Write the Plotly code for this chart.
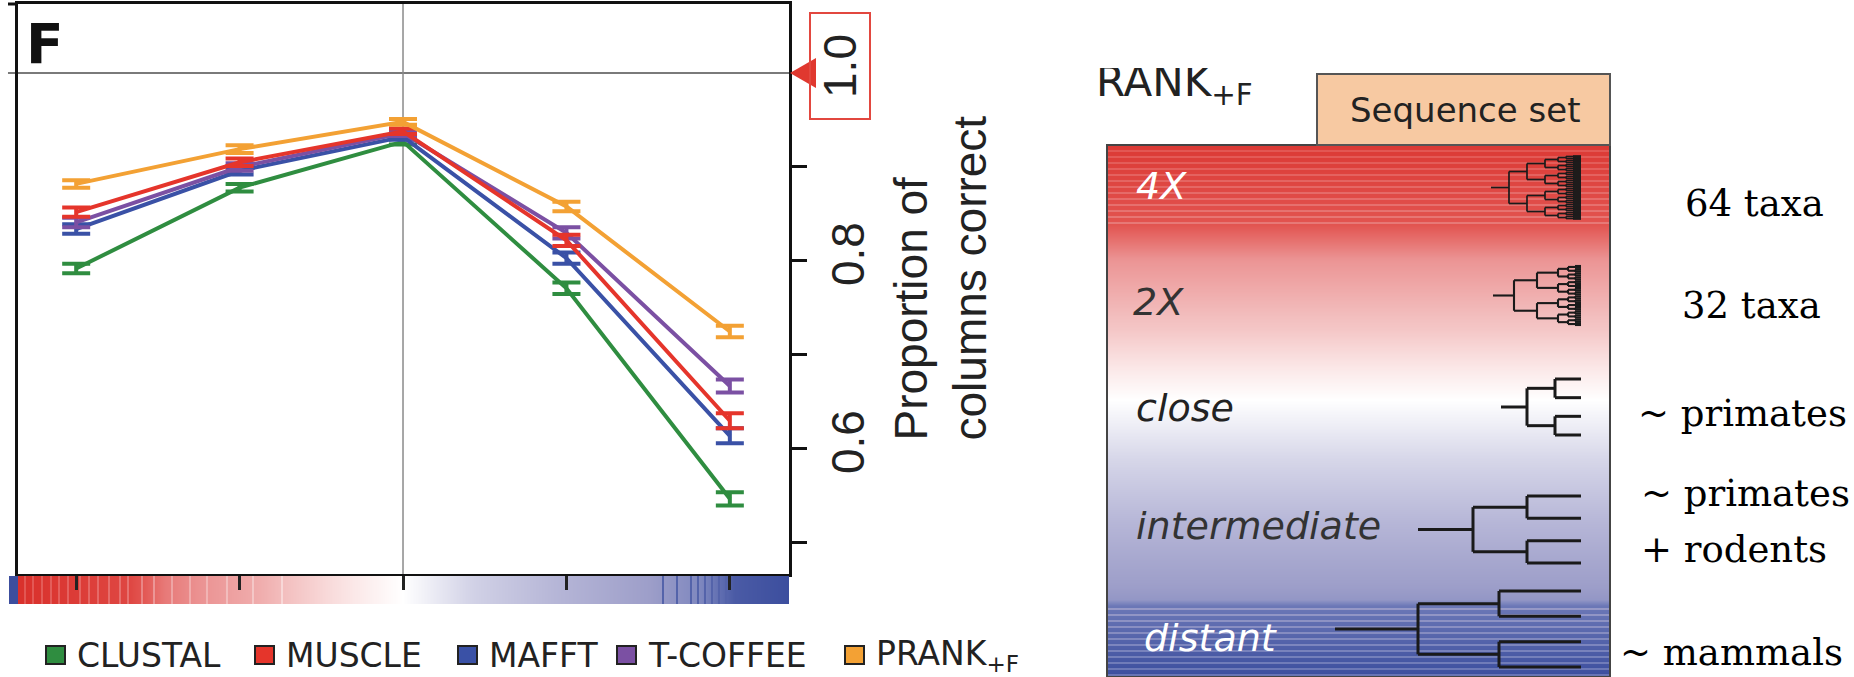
import numpy as np
import plotly.graph_objects as go

W, H = 1854, 677

# ------------------------------------------------------------------ data
sequence_sets = ["4X", "2X", "close", "intermediate", "distant"]
set_pos = [1, 2, 3, 4, 5]

methods = ["CLUSTAL", "MUSCLE", "MAFFT", "T-COFFEE", "PRANK<sub>+F</sub>"]
method_colors = ["#2f8d40", "#e5352b", "#3a51a6", "#7b50a3", "#f3a134"]

clustal = [0.792, 0.878, 0.927, 0.771, 0.547]
muscle = [0.852, 0.905, 0.938, 0.822, 0.630]
mafft = [0.834, 0.896, 0.932, 0.803, 0.614]
tcoffee = [0.841, 0.900, 0.936, 0.830, 0.667]
prank = [0.882, 0.919, 0.948, 0.858, 0.725]

clustal_err = [0.005, 0.004, 0.003, 0.006, 0.007]
muscle_err = [0.005, 0.004, 0.003, 0.006, 0.008]
mafft_err = [0.005, 0.004, 0.003, 0.006, 0.008]
tcoffee_err = [0.005, 0.004, 0.003, 0.006, 0.007]
prank_err = [0.004, 0.004, 0.003, 0.005, 0.006]

y_tickvals = [0.5, 0.6, 0.7, 0.8, 0.9]
y_ticktext = ["", "0.6", "", "0.8", ""]

taxa_labels = ["64 taxa", "32 taxa", "~ primates", "~ primates", "+ rodents", "~ mammals"]
tree_leaves = [64, 32, 4, 4, 4]

# ------------------------------------------------------------ layout helpers
def fx(px):
    return px / W


def fy(py):
    return 1 - py / H


PLOT_L, PLOT_R, PLOT_T, PLOT_B = 18, 789, 4, 574
x_range = [0.644, 5.362]
y_range = [0.467, 1.0734]
STRIP_L, STRIP_T, STRIP_B = 9, 576, 604
BOX_L, BOX_R, BOX_T, BOX_B = 1107, 1610, 145, 677

unit = (PLOT_R - PLOT_L) / (x_range[1] - x_range[0])


def x_at(px):
    return x_range[0] + (px - PLOT_L) / unit


# red -> white -> blue ramp used by the divergence strip and the sequence box
div_scale = [
    [0.00, "#d9302b"], [0.08, "#e25450"], [0.18, "#eb9292"], [0.30, "#f3c0c0"],
    [0.42, "#fbe8e8"], [0.50, "#ffffff"], [0.60, "#d5d5e8"], [0.70, "#b6b6d7"],
    [0.80, "#9d9ec9"], [0.88, "#7580bb"], [1.00, "#3c4e9e"],
]

fig = go.Figure()

# ---------------------------------------------------------------- line plot
series = [
    (clustal, clustal_err, 0),
    (mafft, mafft_err, 2),
    (tcoffee, tcoffee_err, 3),
    (muscle, muscle_err, 1),
    (prank, prank_err, 4),
]
for vals, errs, k in series:
    fig.add_trace(go.Scatter(
        x=set_pos, y=vals, mode="lines", name=methods[k],
        line=dict(color=method_colors[k], width=4),
        error_y=dict(type="data", array=errs, visible=True,
                     color=method_colors[k], thickness=4, width=14),
        showlegend=False, xaxis="x", yaxis="y",
    ))

# --------------------------------------------------- divergence colour strip
strip_stop_px = [9, 17.9, 18, 130, 165, 260, 330, 403, 480, 650, 700, 735, 789]
strip_stop_t = [1.0, 1.0, 0.0, 0.05, 0.14, 0.25, 0.38, 0.50, 0.62, 0.80, 0.86, 0.97, 1.0]
strip_light_px = [24, 32, 41, 50, 58, 67, 79, 88, 97, 108, 119, 127,
                  141, 153, 171, 189, 206, 226, 252, 281]
strip_dark_px = [662, 676, 690, 697, 704, 711, 718, 725]

strip_px = np.arange(STRIP_L, PLOT_R) + 0.5
strip_t = np.interp(strip_px, strip_stop_px, strip_stop_t)
for p in strip_light_px:
    m = (strip_px >= p) & (strip_px < p + 2)
    strip_t[m] = np.minimum(strip_t[m] + 0.08, 0.49)
for p in strip_dark_px:
    m = (strip_px >= p) & (strip_px < p + 2)
    strip_t[m] = 0.95

fig.add_trace(go.Heatmap(
    x=[x_at(p) for p in strip_px], y=[0.5], z=[strip_t.tolist()],
    zmin=0, zmax=1, colorscale=div_scale, showscale=False,
    hoverinfo="skip", xaxis="x2", yaxis="y2",
))

# ----------------------------------------------------------- sequence box
box_stop_px = [145, 225, 262, 330, 400, 480, 560, 600, 606, 677]
box_stop_t = [0.02, 0.08, 0.19, 0.32, 0.50, 0.63, 0.76, 0.82, 0.90, 1.0]
box_light_top = [150, 156, 162, 168, 174, 180, 186, 192, 198, 204, 210, 216, 222]
box_light_bot = [608, 614, 620, 626, 632, 638, 644, 650, 656, 662, 668, 674]

box_py = np.arange(BOX_T, BOX_B) + 0.5
box_t = np.interp(box_py, box_stop_px, box_stop_t)
for p in box_light_top:
    m = (box_py >= p) & (box_py < p + 2)
    box_t[m] = box_t[m] + 0.06
for p in box_light_bot:
    m = (box_py >= p) & (box_py < p + 2)
    box_t[m] = box_t[m] - 0.09

box_y = (BOX_B - box_py) / (BOX_B - BOX_T)
fig.add_trace(go.Heatmap(
    x=[0, 1], y=box_y.tolist(), z=[[t, t] for t in box_t],
    zmin=0, zmax=1, colorscale=div_scale, showscale=False,
    hoverinfo="skip", xaxis="x3", yaxis="y3",
))


def dendrogram(n, stub, levels, leaf_x, y0, y1):
    """Balanced binary tree drawn as right-angled branches."""
    ys = np.linspace(y0, y1, n)
    xs_out, ys_out = [], []

    def seg(xa, ya, xb, yb):
        xs_out.extend([xa, xb, None])
        ys_out.extend([ya, yb, None])

    def build(lo, hi, depth):
        if hi - lo == 1:
            return leaf_x, ys[lo]
        x_node = levels[depth]
        mid = (lo + hi) // 2
        kids = [build(lo, mid, depth + 1), build(mid, hi, depth + 1)]
        seg(x_node, kids[0][1], x_node, kids[1][1])
        for cx, cy in kids:
            seg(x_node, cy, cx, cy)
        return x_node, (kids[0][1] + kids[1][1]) / 2

    rx, ry = build(0, n, 0)
    seg(stub, ry, rx, ry)
    bx = [None if v is None else (v - BOX_L) / (BOX_R - BOX_L) for v in xs_out]
    by = [None if v is None else (BOX_B - v) / (BOX_B - BOX_T) for v in ys_out]
    return bx, by


tree_stub = [1491, 1493, 1501, 1418, 1335]
tree_levels = [[1509, 1527, 1545, 1558, 1566, 1573],
               [1514, 1537, 1558, 1568, 1575],
               [1527, 1555], [1473, 1527], [1418, 1499]]
tree_span = [(156, 219), (266, 325), (379, 435), (496, 563), (591, 667)]
tree_width = [1.7, 2.1, 3.0, 3.0, 3.0]
LEAF_X = 1581

for i, n in enumerate(tree_leaves):
    tx, ty = dendrogram(n, tree_stub[i], tree_levels[i], LEAF_X, *tree_span[i])
    fig.add_trace(go.Scatter(
        x=tx, y=ty, mode="lines", line=dict(color="#1a1a1a", width=tree_width[i]),
        showlegend=False, hoverinfo="skip", xaxis="x3", yaxis="y3",
    ))

# ---------------------------------------------------------------- shapes
shapes = [
    # reference line at full accuracy
    dict(type="line", xref="x domain", yref="y", x0=-0.013, x1=1, y0=1.0, y1=1.0,
         line=dict(color="#7a7a7a", width=2), layer="below"),
    # divider at the "close" set
    dict(type="line", xref="x", yref="y domain", x0=3, x1=3, y0=0, y1=1,
         line=dict(color="#8a8a8a", width=1.5), layer="below"),
    # top rule continues past the left edge
    dict(type="line", xref="x domain", yref="y domain", x0=-0.013, x1=0, y0=1, y1=1,
         line=dict(color="#111111", width=3)),
    # red marker pointing at 1.0
    dict(type="path", xref="paper", yref="y",
         path=f"M {fx(790)},1.0 L {fx(816)},{1.0 + 0.016} L {fx(816)},{1.0 - 0.016} Z",
         fillcolor="#e0382f", line=dict(width=0)),
    # sequence box frame and tab
    dict(type="rect", xref="paper", yref="paper", x0=fx(BOX_L), x1=fx(BOX_R),
         y0=fy(BOX_B), y1=fy(BOX_T), line=dict(color="#444444", width=2), layer="above"),
    dict(type="rect", xref="paper", yref="paper", x0=fx(1317), x1=fx(BOX_R),
         y0=fy(BOX_T), y1=fy(74), fillcolor="#f7c9a2",
         line=dict(color="#555555", width=2)),
]

legend_sq_x = [46, 255, 458, 617, 845]
for k, sx in enumerate(legend_sq_x):
    shapes.append(dict(type="rect", xref="paper", yref="paper",
                       x0=fx(sx), x1=fx(sx + 19), y0=fy(664), y1=fy(646),
                       fillcolor=method_colors[k], line=dict(color="#222222", width=2)))

# ----------------------------------------------------------- annotations
SANS = "DejaVu Sans"
ann = []


def text(x, y, s, size, color="#222222", family=SANS, xanchor="left", yanchor="middle", **kw):
    ann.append(dict(x=fx(x), y=fy(y), xref="paper", yref="paper", text=s,
                    showarrow=False, xanchor=xanchor, yanchor=yanchor,
                    font=dict(family=family, size=size, color=color), **kw))


text(24, 44, "<b>F</b>", 55, color="#111111")

for k, sx in enumerate(legend_sq_x):
    text(sx + 29, 655, methods[k], 33)

text(940, 443, "Proportion of<br>columns correct", 46, family="Liberation Sans",
     xanchor="center", yanchor="bottom", textangle=-90, align="left")
ann.append(dict(x=fx(840), y=fy(66), xref="paper", yref="paper", text="1.0",
                xanchor="center", yanchor="middle",
                showarrow=False, textangle=-90, width=100, height=54,
                bordercolor="#e2473f", borderwidth=2, borderpad=2,
                font=dict(family="Liberation Sans", size=46, color="#222222")))

text(1094, 84, "RANK<sub>+F</sub>", 42)
# white band trimming the top of the heading
ann.append(dict(x=fx(1080), y=fy(68), xref="paper", yref="paper", text=".",
                showarrow=False, xanchor="left", yanchor="bottom", width=240, height=50,
                bgcolor="white", borderwidth=0,
                font=dict(family=SANS, size=10, color="white")))

text(1465, 110, "Sequence set", 34, xanchor="center")

box_label_pos = [(1134, 186, "white"), (1131, 302, "#333333"), (1134, 408, "#222222"),
                 (1134, 526, "#333333"), (1142, 638, "white")]
for (lx, ly, lc), name in zip(box_label_pos, sequence_sets):
    text(lx, ly, f"<i>{name}</i>", 38, color=lc)

taxa_pos = [(1683, 203), (1680, 305), (1636, 413), (1639, 493), (1639, 549), (1618, 652)]
for (lx, ly), lab in zip(taxa_pos, taxa_labels):
    text(lx, ly, lab, 37, color="#000000", family="DejaVu Serif")

# ---------------------------------------------------------------- layout
hidden = dict(showgrid=False, zeroline=False, showticklabels=False, ticks="",
              showline=False, fixedrange=True)

fig.update_layout(
    width=W, height=H,
    margin=dict(l=0, r=0, t=0, b=0),
    paper_bgcolor="white", plot_bgcolor="white",
    xaxis=dict(domain=[fx(PLOT_L), fx(PLOT_R)], range=x_range, showgrid=False,
               zeroline=False, showticklabels=False, ticks="", showline=True,
               linecolor="#111111", linewidth=3, mirror=True),
    yaxis=dict(domain=[fy(PLOT_B), fy(PLOT_T)], range=y_range, side="right",
               showgrid=False, zeroline=False, showline=True, linecolor="#111111",
               linewidth=3, mirror=True, ticks="outside", ticklen=15, tickwidth=3,
               tickcolor="#111111", tickvals=y_tickvals, ticktext=y_ticktext,
               tickangle=-90, ticklabelstandoff=2,
               tickfont=dict(family="Liberation Sans", size=46, color="#222222")),
    xaxis2=dict(domain=[fx(STRIP_L), fx(PLOT_R)], range=[x_at(STRIP_L), x_at(PLOT_R)],
                anchor="y2", side="top", showgrid=False, zeroline=False,
                showticklabels=False, showline=False, ticks="inside", ticklen=14,
                tickwidth=3, tickcolor="#222222", tickvals=set_pos),
    yaxis2=dict(domain=[fy(STRIP_B), fy(STRIP_T)], range=[0, 1], anchor="x2", **hidden),
    xaxis3=dict(domain=[fx(BOX_L), fx(BOX_R)], range=[0, 1], anchor="y3", **hidden),
    yaxis3=dict(domain=[fy(BOX_B), fy(BOX_T)], range=[0, 1], anchor="x3", **hidden),
    shapes=shapes,
    annotations=ann,
)

fig.write_html("out.html")
